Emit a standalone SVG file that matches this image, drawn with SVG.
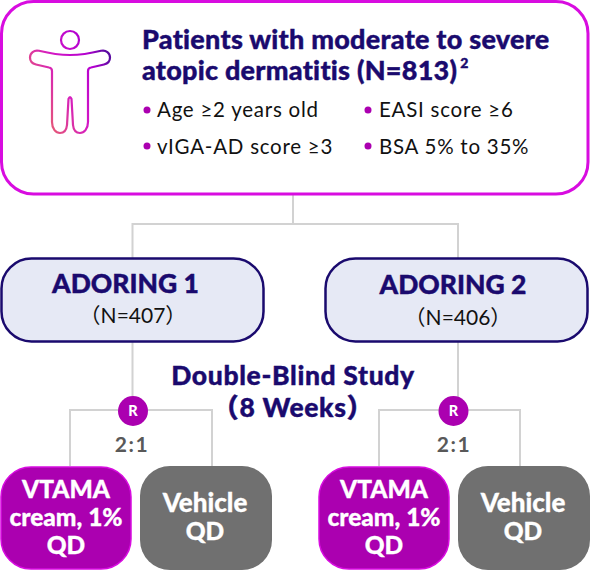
<svg xmlns="http://www.w3.org/2000/svg" width="590" height="570" viewBox="0 0 590 570">
<style>
text{font-family:"Lato","Noto Sans CJK JP",sans-serif}
.t{font-size:27px;font-weight:900;fill:#1a0a6e;stroke:#1a0a6e;stroke-width:.4;letter-spacing:.25px}
.b{font-size:20.500px;font-weight:400;fill:#111;letter-spacing:.75px}
.dot{fill:#ab00b0}
.c{fill:none;stroke:#d2d2d2;stroke-width:2}
.h{font-size:26.500px;font-weight:900;fill:#1a0a6e;stroke:#1a0a6e;stroke-width:.4;text-anchor:middle}
.p{letter-spacing:.65px}
.n{font-size:21px;fill:#111;text-anchor:middle}
.study{fill:#e6e9f5;stroke:#1a0a6e;stroke-width:2.500}
.arm{fill:#ab00b0;stroke:#d80ce0;stroke-width:1.500}
.veh{fill:#707070}
.w{font-size:24.500px;font-weight:900;fill:#fff;stroke:#fff;stroke-width:.3;text-anchor:middle}
.v{font-size:26px}
.r{font-size:14.500px;font-weight:900;fill:#fff;text-anchor:middle}
.ratio{font-size:21px;font-weight:700;fill:#595959;text-anchor:middle;letter-spacing:1.500px}
.ic{fill:none;stroke:url(#g);stroke-width:2.200;stroke-linejoin:round}
</style>
<defs>
<linearGradient id="g" gradientUnits="userSpaceOnUse" x1="30" y1="100" x2="110" y2="60">
<stop offset="0" stop-color="#e8636a"/><stop offset=".45" stop-color="#d418c4"/><stop offset=".8" stop-color="#b400d0"/><stop offset="1" stop-color="#5a0aa0"/>
</linearGradient>
</defs>
<g id="connectors">
<path class="c" d="M293 194V224M132.500 258V224H458V258"/>
<path class="c" d="M132.500 342V400M458 342V400"/>
<path class="c" d="M70 466V410H212V466M379 466V410H520V466"/>
</g>
<g id="population">
<rect x="1.500" y="1.500" width="586.500" height="192.500" rx="32" fill="#fff" stroke="#d80ce0" stroke-width="3"/>
<circle class="ic" cx="70" cy="40" r="9"/>
<path class="ic" d="M70 55C82 55 92 53 101 50.800C106 49.600 110 53 110 57.500C110 61 108 63.500 104 64.500L91 67.500Q88 68 88 71V122C88 129 84 133 80 133C76 133 73.500 130 73 125L71.500 99Q70 95 68.500 99L67 125C66.500 130 64 133 60 133C56 133 52 129 52 122V71Q52 68 49 67.500L36 64.500C32 63.500 30 61 30 57.500C30 53 34 49.600 39 50.800C48 53 58 55 70 55Z"/>
<text class="t" x="142" y="49">Patients with moderate to severe</text>
<text class="t" x="142" y="80">atopic dermatitis (N=813)<tspan font-size="14" dy="-12" dx="3">2</tspan></text>
<circle class="dot" cx="147" cy="110" r="3.500"/><text class="b" x="157" y="117">Age ≥2 years old</text>
<circle class="dot" cx="147" cy="146" r="3.500"/><text class="b" x="157" y="154">vIGA-AD score ≥3</text>
<circle class="dot" cx="368" cy="110" r="3.500"/><text class="b" x="379" y="117">EASI score ≥6</text>
<circle class="dot" cx="368" cy="146" r="3.500"/><text class="b" x="379" y="154">BSA 5% to 35%</text>
</g>
<g id="adoring1">
<rect class="study" x="1.500" y="258.500" width="262" height="83" rx="30"/>
<text class="h" x="125.500" y="293">ADORING 1</text>
<text class="n" x="133" y="323">（N=407）</text>
</g>
<g id="adoring2">
<rect class="study" x="325.500" y="258.500" width="262" height="83" rx="30"/>
<text class="h" x="453" y="294">ADORING 2</text>
<text class="n" x="458" y="325">（N=406）</text>
</g>
<g id="period">
<text class="h p" x="293" y="385">Double-Blind Study</text>
<text class="h p" x="293" y="417">（8 Weeks）</text>
</g>
<g id="rand1"><circle cx="133" cy="411" r="15" fill="#ab00b0"/><text class="r" x="133" y="416">R</text></g>
<g id="rand2"><circle cx="453.500" cy="411" r="15" fill="#ab00b0"/><text class="r" x="453.500" y="416">R</text></g>
<g id="ratio1"><text class="ratio" x="132" y="452">2:1</text></g>
<g id="ratio2"><text class="ratio" x="454" y="452">2:1</text></g>
<g id="vtama1">
<rect class="arm" x="1" y="467" width="130" height="102" rx="30"/>
<text class="w" x="66" y="498">VTAMA</text><text class="w" x="66" y="526">cream, 1%</text><text class="w" x="66" y="554">QD</text>
</g>
<g id="vehicle1">
<rect class="veh" x="140" y="466" width="132" height="104" rx="30"/>
<text class="w v" x="205" y="512">Vehicle</text><text class="w" x="205" y="540">QD</text>
</g>
<g id="vtama2">
<rect class="arm" x="319" y="467" width="130" height="102" rx="30"/>
<text class="w" x="384" y="498">VTAMA</text><text class="w" x="384" y="526">cream, 1%</text><text class="w" x="384" y="554">QD</text>
</g>
<g id="vehicle2">
<rect class="veh" x="458" y="466" width="132" height="104" rx="30"/>
<text class="w v" x="523" y="512">Vehicle</text><text class="w" x="523" y="540">QD</text>
</g>
</svg>
